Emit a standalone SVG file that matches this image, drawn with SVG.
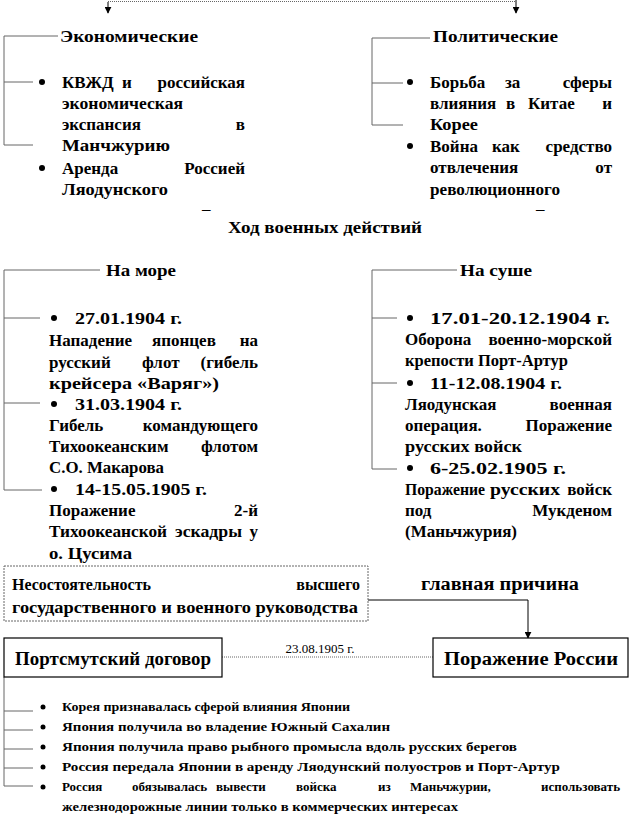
<svg xmlns="http://www.w3.org/2000/svg" width="635" height="828" viewBox="0 0 635 828" font-family="Liberation Serif, Tinos, Times New Roman, Noto Serif, DejaVu Serif, serif">
<style>
text{font-family:Liberation Serif, Tinos, Times New Roman, Noto Serif, DejaVu Serif, serif;font-size:17px;font-weight:bold;fill:#000}
.n{font-weight:normal}
.s{font-size:13px}
.e{text-anchor:end}
.m{text-anchor:middle}
.ln{stroke:#666;stroke-width:1;fill:none}
.dt{stroke:#666;stroke-width:1;fill:none;stroke-dasharray:1 1}
.bx{fill:#fff;stroke:#000;stroke-width:1.2}
</style>
<defs>
<marker id="ar" viewBox="0 0 10 10" refX="9" refY="5" markerWidth="7" markerHeight="7" orient="auto"><path d="M0,0 L10,5 L0,10 z" fill="#000"/></marker>
</defs>
<rect width="635" height="828" fill="#fff"/>
<g id="connectors">
<path class="dt" d="M108,1.5 H516"/>
<path stroke="#000" stroke-width="1" d="M108,2 V13" marker-end="url(#ar)"/>
<path stroke="#000" stroke-width="1" d="M516,0 V13" marker-end="url(#ar)"/>
<path class="ln" d="M58,36 H4 V145 H33 M4,82 H33"/>
<path class="ln" d="M430,38 H372 V125 H403 M372,83 H403"/>
<path class="ln" d="M100,270 H4 V490 H42 M4,318 H40 M4,403 H40"/>
<path class="ln" d="M457,270 H372 V469 H397 M372,318 H397 M372,383 H397"/>
<path stroke="#000" stroke-width="1" fill="none" d="M368,600 H528 V638" marker-end="url(#ar)"/>
<path class="dt" d="M222,657 H433"/>
<path class="ln" d="M4,677 V786 M4,711 H33 M4,730 H33 M4,749 H33 M4,768 H33 M4,786 H33"/>
</g>
<g id="economic">
<text x="60" y="42" textLength="138" lengthAdjust="spacingAndGlyphs">Экономические</text>
<circle cx="42" cy="82" r="3"/>
<text x="62" y="88">КВЖД</text><text x="122" y="88">и</text><text x="245" y="88" class="e">российская</text>
<text x="62" y="109" textLength="121" lengthAdjust="spacingAndGlyphs">экономическая</text>
<text x="62" y="130">экспансия</text><text x="245" y="130" class="e">в</text>
<text x="62" y="151" textLength="108" lengthAdjust="spacingAndGlyphs">Манчжурию</text>
<circle cx="42" cy="168" r="3"/>
<text x="62" y="174">Аренда</text><text x="245" y="174" class="e">Россией</text>
<text x="62" y="195" textLength="106" lengthAdjust="spacingAndGlyphs">Ляодунского</text>
<text x="202" y="214" class="n">–</text>
</g>
<g id="political">
<text x="433" y="42" textLength="125" lengthAdjust="spacingAndGlyphs">Политические</text>
<circle cx="410" cy="82" r="3"/>
<text x="430" y="88">Борьба</text><text x="505" y="88">за</text><text x="612" y="88" class="e">сферы</text>
<text x="430" y="109">влияния</text><text x="506" y="109">в</text><text x="528" y="109">Китае</text><text x="612" y="109" class="e">и</text>
<text x="430" y="130" textLength="48" lengthAdjust="spacingAndGlyphs">Корее</text>
<circle cx="410" cy="146" r="3"/>
<text x="430" y="152">Война</text><text x="492" y="152">как</text><text x="612" y="152" class="e">средство</text>
<text x="430" y="173">отвлечения</text><text x="612" y="173" class="e">от</text>
<text x="430" y="195" textLength="130" lengthAdjust="spacingAndGlyphs">революционного</text>
<text x="536" y="214" class="n">–</text>
</g>
<g id="title">
<text x="325" y="233" class="m" textLength="194" lengthAdjust="spacingAndGlyphs">Ход военных действий</text>
</g>
<g id="sea">
<text x="106" y="276" textLength="70" lengthAdjust="spacingAndGlyphs">На море</text>
<circle cx="54" cy="318" r="3"/>
<text x="75" y="324" textLength="107" lengthAdjust="spacingAndGlyphs">27.01.1904 г.</text>
<text x="49" y="346">Нападение</text><text x="152" y="346">японцев</text><text x="258" y="346" class="e">на</text>
<text x="49" y="368">русский</text><text x="142" y="368">флот</text><text x="258" y="368" class="e">(гибель</text>
<text x="49" y="389" textLength="170" lengthAdjust="spacingAndGlyphs">крейсера «Варяг»)</text>
<circle cx="54" cy="404" r="3"/>
<text x="75" y="410" textLength="107" lengthAdjust="spacingAndGlyphs">31.03.1904 г.</text>
<text x="49" y="431">Гибель</text><text x="258" y="431" class="e">командующего</text>
<text x="49" y="452">Тихоокеанским</text><text x="258" y="452" class="e">флотом</text>
<text x="49" y="473" textLength="115" lengthAdjust="spacingAndGlyphs">С.О. Макарова</text>
<circle cx="54" cy="489" r="3"/>
<text x="75" y="495" textLength="132" lengthAdjust="spacingAndGlyphs">14-15.05.1905 г.</text>
<text x="49" y="516">Поражение</text><text x="258" y="516" class="e">2-й</text>
<text x="49" y="537" textLength="118" lengthAdjust="spacingAndGlyphs">Тихоокеанской</text><text x="175" y="537" textLength="67" lengthAdjust="spacingAndGlyphs">эскадры</text><text x="258" y="537" class="e">у</text>
<text x="49" y="559" textLength="83" lengthAdjust="spacingAndGlyphs">о. Цусима</text>
</g>
<g id="land">
<text x="460" y="276" textLength="72" lengthAdjust="spacingAndGlyphs">На суше</text>
<circle cx="410" cy="318" r="3"/>
<text x="430" y="324" textLength="180" lengthAdjust="spacingAndGlyphs">17.01-20.12.1904 г.</text>
<text x="405" y="345">Оборона</text><text x="612" y="345" class="e">военно-морской</text>
<text x="405" y="366" textLength="163" lengthAdjust="spacingAndGlyphs">крепости Порт-Артур</text>
<circle cx="410" cy="383" r="3"/>
<text x="430" y="389" textLength="132" lengthAdjust="spacingAndGlyphs">11-12.08.1904 г.</text>
<text x="405" y="410">Ляодунская</text><text x="612" y="410" class="e">военная</text>
<text x="405" y="431">операция.</text><text x="612" y="431" class="e">Поражение</text>
<text x="405" y="452" textLength="117" lengthAdjust="spacingAndGlyphs">русских войск</text>
<circle cx="410" cy="468" r="3"/>
<text x="430" y="474" textLength="136" lengthAdjust="spacingAndGlyphs">6-25.02.1905 г.</text>
<text x="405" y="495" textLength="80" lengthAdjust="spacingAndGlyphs">Поражение</text><text x="490" y="495" textLength="70" lengthAdjust="spacingAndGlyphs">русских</text><text x="612" y="495" class="e">войск</text>
<text x="405" y="516">под</text><text x="612" y="516" class="e">Мукденом</text>
<text x="405" y="537" textLength="112" lengthAdjust="spacingAndGlyphs">(Маньчжурия)</text>
</g>
<g id="cause">
<rect x="4" y="566" width="364" height="55" fill="#fff" stroke="#666" stroke-width="1" stroke-dasharray="2 1"/>
<text x="12" y="590" style="font-size:16px">Несостоятельность</text><text x="360" y="590" class="e" style="font-size:16px">высшего</text>
<text x="12" y="613" style="font-size:16px" textLength="346" lengthAdjust="spacingAndGlyphs">государственного и военного руководства</text>
</g>
<g id="main-cause-label">
<text x="500" y="590" class="m" style="font-size:18px" textLength="158" lengthAdjust="spacingAndGlyphs">главная причина</text>
</g>
<g id="portsmouth">
<rect x="4" y="638" width="218" height="39" class="bx"/>
<text x="113" y="665" class="m" style="font-size:18px" textLength="196" lengthAdjust="spacingAndGlyphs">Портсмутский договор</text>
</g>
<g id="date-label">
<text x="320" y="653" class="n s m">23.08.1905 г.</text>
</g>
<g id="defeat">
<rect x="433" y="638" width="195" height="39" class="bx"/>
<text x="531" y="665" class="m" style="font-size:18px" textLength="174" lengthAdjust="spacingAndGlyphs">Поражение России</text>
</g>
<g id="terms">
<circle cx="43" cy="707" r="2.5"/>
<text x="62" y="711" class="s" textLength="288" lengthAdjust="spacingAndGlyphs">Корея признавалась сферой влияния Японии</text>
<circle cx="43" cy="727" r="2.5"/>
<text x="62" y="731" class="s" textLength="328" lengthAdjust="spacingAndGlyphs">Япония получила во владение Южный Сахалин</text>
<circle cx="43" cy="747" r="2.5"/>
<text x="62" y="751" class="s" textLength="455" lengthAdjust="spacingAndGlyphs">Япония получила право рыбного промысла вдоль русских берегов</text>
<circle cx="43" cy="767" r="2.5"/>
<text x="62" y="771" class="s" textLength="498" lengthAdjust="spacingAndGlyphs">Россия передала Японии в аренду Ляодунский полуостров и Порт-Артур</text>
<circle cx="43" cy="787" r="2.5"/>
<text x="62" y="791" class="s">Россия</text><text x="132" y="791" class="s">обязывалась</text><text x="216" y="791" class="s">вывести</text><text x="296" y="791" class="s">войска</text><text x="378" y="791" class="s">из</text><text x="410" y="791" class="s">Маньчжурии,</text><text x="620" y="791" class="s e">использовать</text>
<text x="62" y="811" class="s" textLength="396" lengthAdjust="spacingAndGlyphs">железнодорожные линии только в коммерческих интересах</text>
</g>
</svg>
